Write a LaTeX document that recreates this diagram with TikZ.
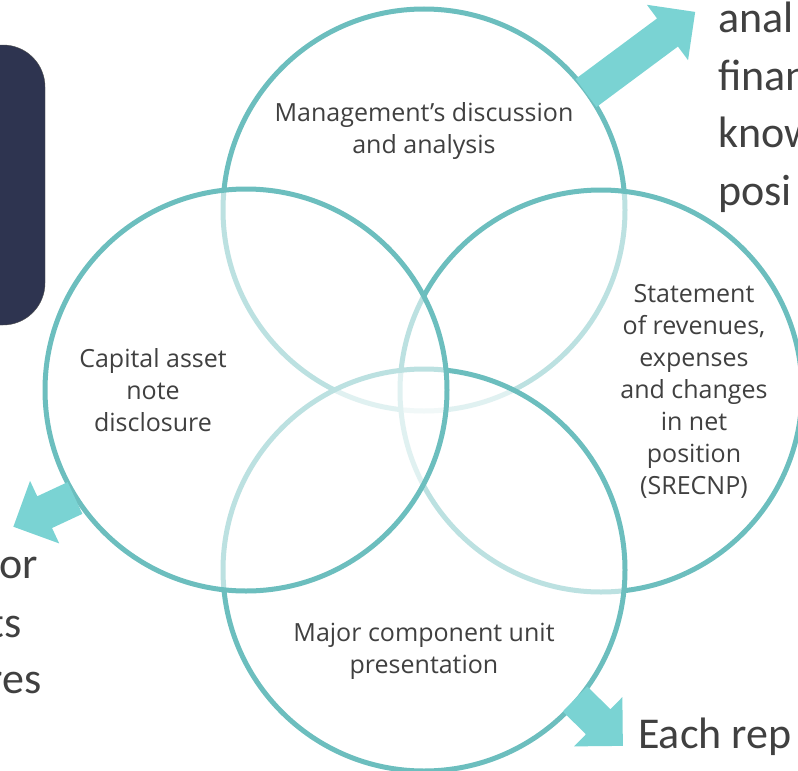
\documentclass[tikz,border=0pt]{standalone}
\usepackage{fontspec}
\setmainfont{Open Sans}
\newfontfamily\bigfont{Carlito}
\usepackage{tikz}
\usetikzlibrary{positioning}

\definecolor{vennteal}{RGB}{108,190,190}
\definecolor{arrowteal}{RGB}{122,211,211}
\definecolor{navybox}{RGB}{46,52,80}
\definecolor{textgray}{RGB}{64,64,64}

% block arrow: start point, angle, length
\newcommand{\blockarrow}[3]{%
  \fill[arrowteal, shift={#1}, rotate=#2]
    (0,-17.5) -- ({#3-34.5},-17.5) -- ({#3-34.5},-34.5) -- (#3,0)
    -- ({#3-34.5},34.5) -- ({#3-34.5},17.5) -- (0,17.5) -- cycle;}

\begin{document}
\begin{tikzpicture}[
  x=1pt, y=-1pt,
  venn/.style = {circle, draw=vennteal, line width=5pt, fill=white, fill opacity=0.55, draw opacity=1, minimum size=402pt, inner sep=0pt},
  circtext/.style = {align=center, text=textgray, font=\fontsize{25}{32}\selectfont},
  bigtext/.style = {text=textgray, font=\bigfont\fontsize{44}{57}\selectfont, inner sep=0pt}
]
\useasboundingbox (0,0) rectangle (798,771);
\clip (0,0) rectangle (798,771);

% ======================================================
% Dark box (left, cut by the border)
% ======================================================
\draw[fill=navybox, draw=black!70, rounded corners=42pt] (-60,45) rectangle (45,325);

% ======================================================
% Four circles (drawn in this order, each one fades the lines below it)
% ======================================================
\node[venn] (mda)   at (424,210) {};
\node[venn] (srec)  at (601,391) {};
\node[venn] (major) at (424,570) {};
\node[venn] (cap)   at (246,390) {};

% ======================================================
% Block arrows out of the circles
% ======================================================
\blockarrow{(586,93)}{36.6}{136}
\blockarrow{(75,498)}{205}{68}
\blockarrow{(575,699)}{-44.4}{67}

% ======================================================
% Circle labels
% ======================================================
\node[circtext] (mdaText)   at (424,131) {Management's discussion\\and analysis};
\node[circtext] (capText)   at (153,390) {Capital asset\\note\\disclosure};
\node[circtext] (srecText)  at (694,391) {Statement\\of revenues,\\expenses\\and changes\\in net\\position\\(SRECNP)};
\node[circtext] (majorText) at (424,651) {Major component unit\\presentation};

% ======================================================
% Large texts cut by the border
% ======================================================
\node[bigtext, anchor=base west] (tr1) at (718,32)  {anal};
\node[bigtext, anchor=base west] (tr2) at (718,90)  {finan};
\node[bigtext, anchor=base west] (tr3) at (718,147) {know};
\node[bigtext, anchor=base west] (tr4) at (718,205) {posi};

\node[bigtext, anchor=base east] (bl1) at (38,578) {or};
\node[bigtext, anchor=base east] (bl2) at (22,637) {ts};
\node[bigtext, anchor=base east] (bl3) at (42,693) {res};

\node[bigtext, anchor=base west] (br1) at (638,748) {Each rep};
\end{tikzpicture}
\end{document}
